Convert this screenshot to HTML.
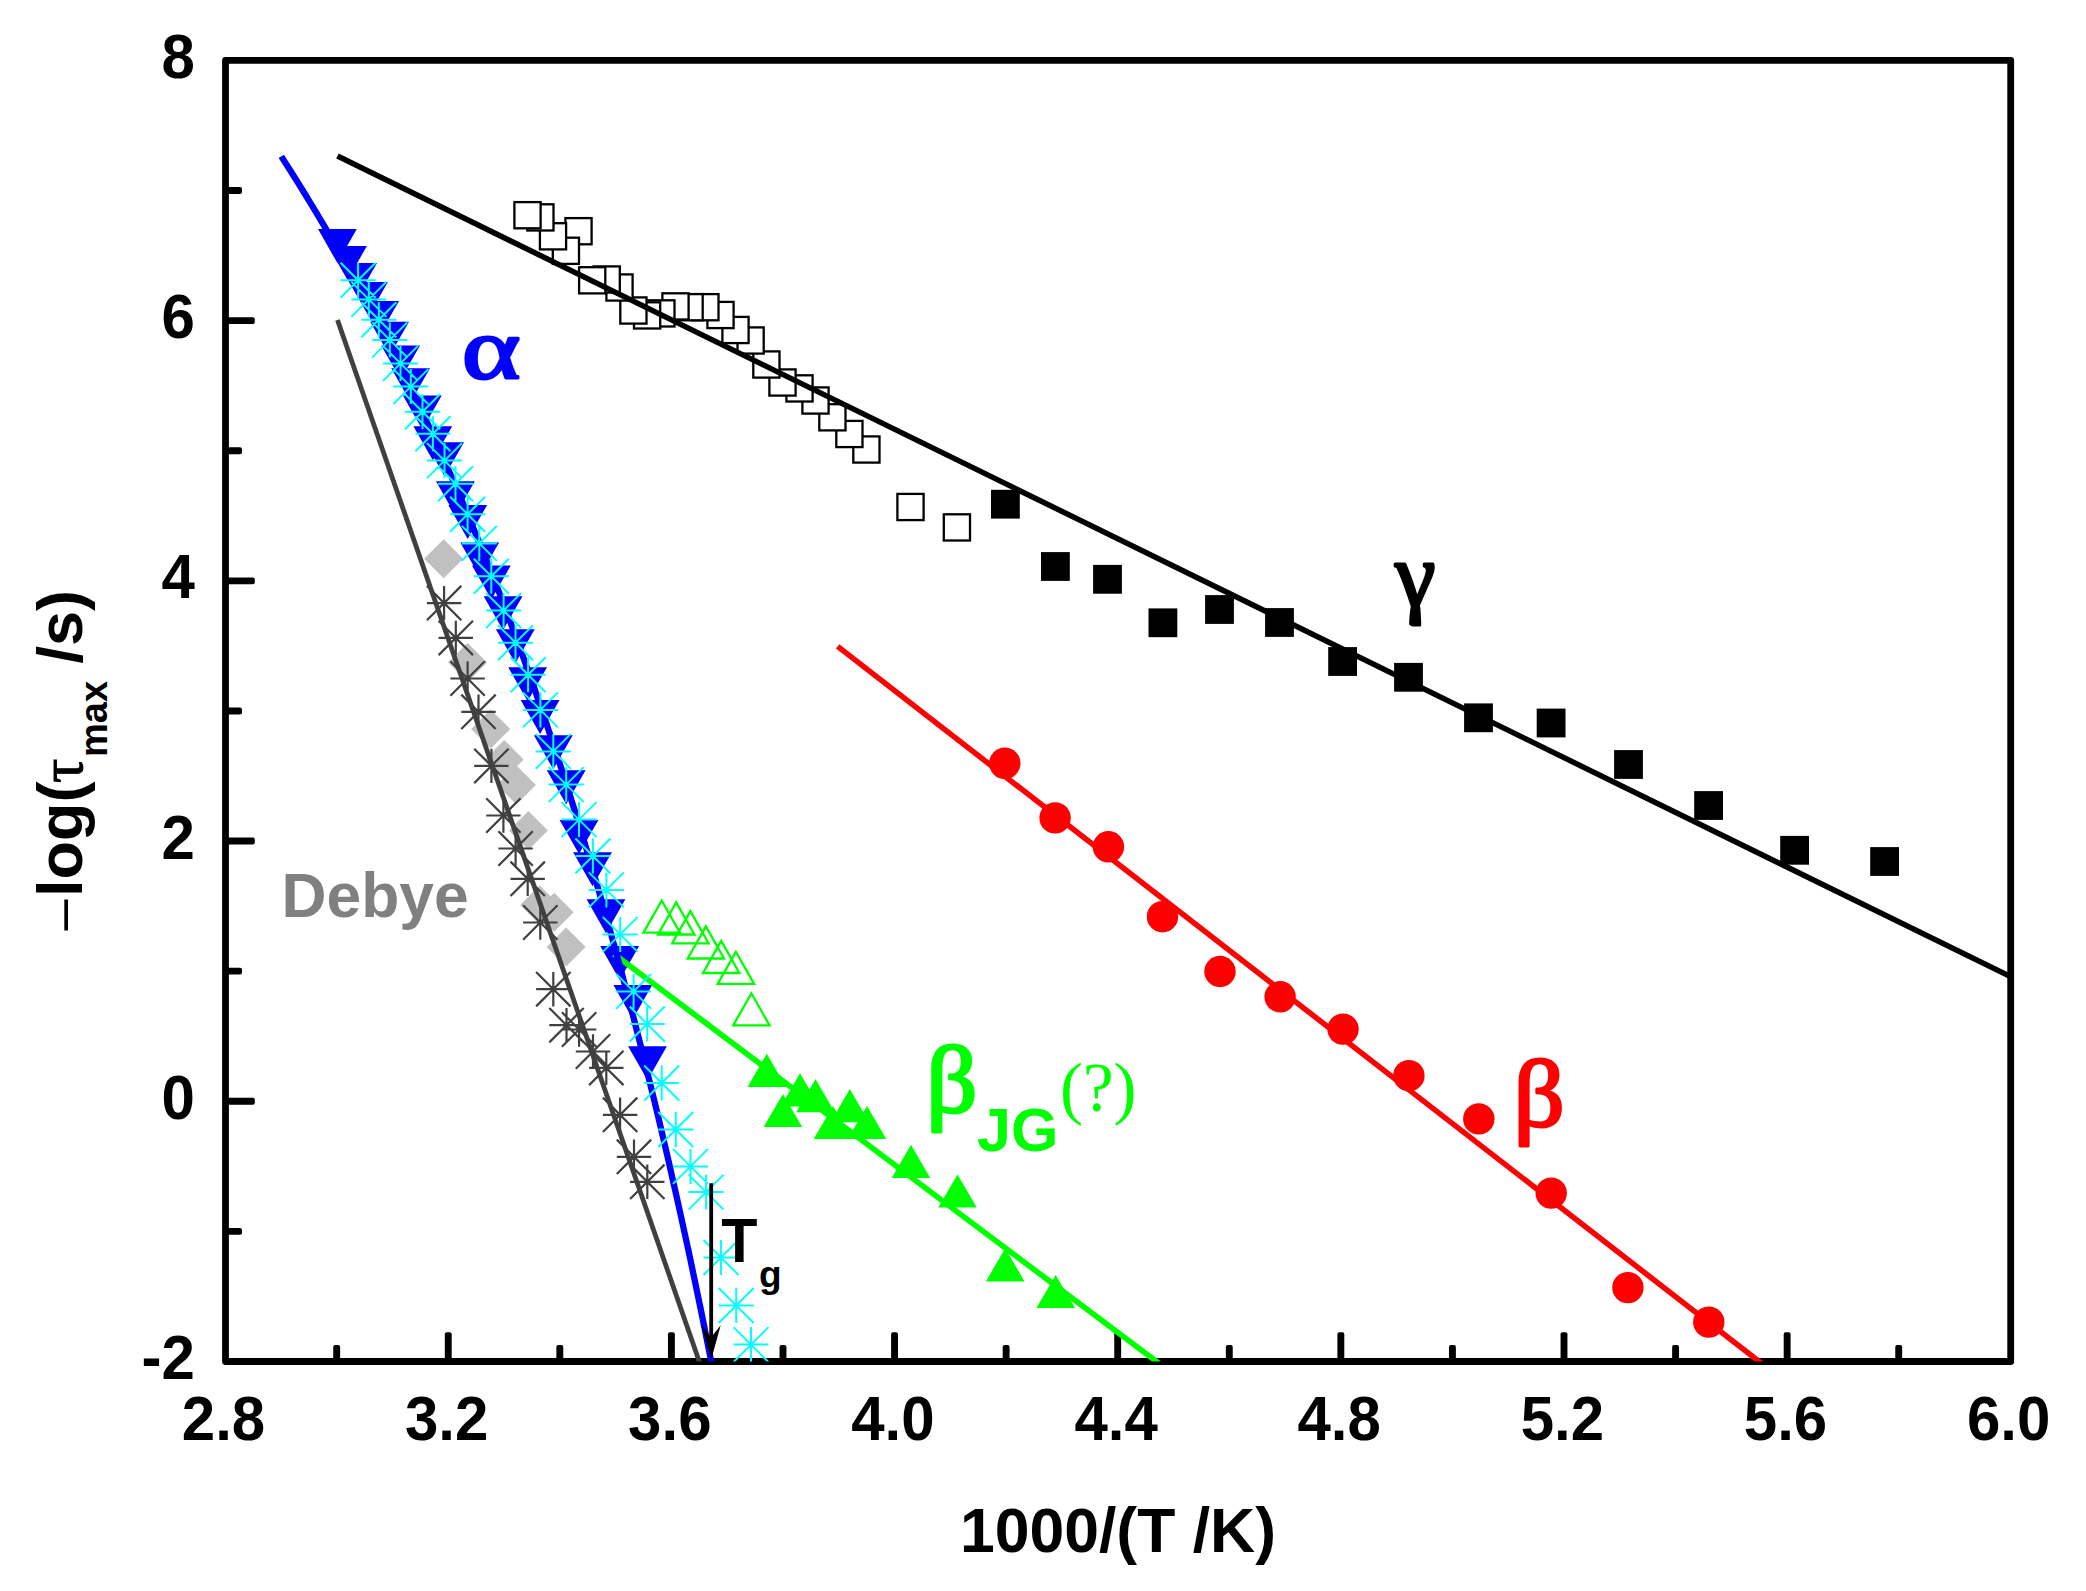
<!DOCTYPE html>
<html lang="en"><head><meta charset="utf-8"><title>Relaxation map</title>
<style>html,body{margin:0;padding:0;background:#fff}svg{display:block}</style></head>
<body>
<svg width="2086" height="1591" viewBox="0 0 2086 1591">
<rect width="2086" height="1591" fill="#fff"/>
<rect x="225.5" y="60.4" width="1785.2" height="1301.1" fill="none" stroke="#000" stroke-width="6.8" stroke-linejoin="round"/>
<g fill="#000"><rect x="333.23" y="1345.0" width="6.9" height="16.5" rx="2"/><rect x="444.80" y="1332.2" width="6.9" height="29.3" rx="2"/><rect x="556.38" y="1345.0" width="6.9" height="16.5" rx="2"/><rect x="667.95" y="1332.2" width="6.9" height="29.3" rx="2"/><rect x="779.53" y="1345.0" width="6.9" height="16.5" rx="2"/><rect x="891.10" y="1332.2" width="6.9" height="29.3" rx="2"/><rect x="1002.68" y="1345.0" width="6.9" height="16.5" rx="2"/><rect x="1114.25" y="1332.2" width="6.9" height="29.3" rx="2"/><rect x="1225.83" y="1345.0" width="6.9" height="16.5" rx="2"/><rect x="1337.40" y="1332.2" width="6.9" height="29.3" rx="2"/><rect x="1448.98" y="1345.0" width="6.9" height="16.5" rx="2"/><rect x="1560.55" y="1332.2" width="6.9" height="29.3" rx="2"/><rect x="1672.13" y="1345.0" width="6.9" height="16.5" rx="2"/><rect x="1783.70" y="1332.2" width="6.9" height="29.3" rx="2"/><rect x="1895.28" y="1345.0" width="6.9" height="16.5" rx="2"/><rect x="225.5" y="1227.94" width="16.5" height="6.9" rx="2"/><rect x="225.5" y="1097.83" width="29.3" height="6.9" rx="2"/><rect x="225.5" y="967.72" width="16.5" height="6.9" rx="2"/><rect x="225.5" y="837.61" width="29.3" height="6.9" rx="2"/><rect x="225.5" y="707.50" width="16.5" height="6.9" rx="2"/><rect x="225.5" y="577.39" width="29.3" height="6.9" rx="2"/><rect x="225.5" y="447.28" width="16.5" height="6.9" rx="2"/><rect x="225.5" y="317.17" width="29.3" height="6.9" rx="2"/><rect x="225.5" y="187.06" width="16.5" height="6.9" rx="2"/></g>
<clipPath id="pc"><rect x="225.5" y="60.4" width="1785.2" height="1301.1"/></clipPath>
<g clip-path="url(#pc)">
<g fill="#c0c0c0"><path d="M424.2 558.8L443.7 539.3L463.2 558.8L443.7 578.3Z"/><path d="M448.1 662.6L467.6 643.1L487.1 662.6L467.6 682.1Z"/><path d="M471.2 729.0L490.7 709.5L510.2 729.0L490.7 748.5Z"/><path d="M484.7 759.5L504.2 740.0L523.7 759.5L504.2 779.0Z"/><path d="M496.9 785.0L516.4 765.5L535.9 785.0L516.4 804.5Z"/><path d="M508.9 830.5L528.4 811.0L547.9 830.5L528.4 850.0Z"/><path d="M520.2 905.0L539.7 885.5L559.2 905.0L539.7 924.5Z"/><path d="M534.7 912.2L554.2 892.7L573.7 912.2L554.2 931.7Z"/><path d="M546.6 947.1L566.1 927.6L585.6 947.1L566.1 966.6Z"/></g>
<path fill="#0000ff" d="M318.0 229.1H356.8L337.4 263.1ZM328.1 246.0H366.9L347.5 280.0ZM338.2 263.0H377.0L357.6 297.0ZM349.1 282.1H387.9L368.5 316.1ZM360.2 301.1H399.0L379.6 335.1ZM370.2 321.8H409.0L389.6 355.8ZM381.2 345.5H420.0L400.6 379.5ZM391.2 368.2H430.0L410.6 402.2ZM402.9 395.4H441.7L422.3 429.4ZM413.4 426.2H452.2L432.8 460.2ZM425.2 442.2H464.0L444.6 476.2ZM436.0 481.3H474.8L455.4 515.3ZM448.3 505.1H487.1L467.7 539.1ZM460.3 542.4H499.1L479.7 576.4ZM472.0 565.4H510.8L491.4 599.4ZM483.7 596.2H522.5L503.1 630.2ZM495.9 629.2H534.7L515.3 663.2ZM508.2 667.2H547.0L527.6 701.2ZM520.7 700.1H559.5L540.1 734.1ZM533.9 735.3H572.7L553.3 769.3ZM546.8 770.3H585.6L566.2 804.3ZM559.6 819.9H598.4L579.0 853.9ZM573.1 852.2H611.9L592.5 886.2ZM586.6 899.2H625.4L606.0 933.2ZM600.3 946.1H639.1L619.7 980.1ZM613.4 985.1H652.2L632.8 1019.1ZM628.1 1046.3H666.9L647.5 1080.3Z"/>
<g fill="#fff" stroke="#000" stroke-width="2.3"><rect x="943.8" y="514.3" width="26.2" height="26.2"/><rect x="897.4" y="493.9" width="26.2" height="26.2"/><rect x="853.3" y="436.4" width="26.2" height="26.2"/><rect x="836.3" y="420.9" width="26.2" height="26.2"/><rect x="819.3" y="404.2" width="26.2" height="26.2"/><rect x="802.4" y="387.4" width="26.2" height="26.2"/><rect x="786.4" y="375.3" width="26.2" height="26.2"/><rect x="769.4" y="369.4" width="26.2" height="26.2"/><rect x="753.3" y="351.4" width="26.2" height="26.2"/><rect x="737.5" y="327.4" width="26.2" height="26.2"/><rect x="722.4" y="316.9" width="26.2" height="26.2"/><rect x="707.4" y="301.9" width="26.2" height="26.2"/><rect x="692.3" y="294.1" width="26.2" height="26.2"/><rect x="676.5" y="294.1" width="26.2" height="26.2"/><rect x="662.4" y="293.3" width="26.2" height="26.2"/><rect x="648.3" y="300.3" width="26.2" height="26.2"/><rect x="634.0" y="302.3" width="26.2" height="26.2"/><rect x="620.3" y="297.4" width="26.2" height="26.2"/><rect x="606.4" y="274.4" width="26.2" height="26.2"/><rect x="593.6" y="266.4" width="26.2" height="26.2"/><rect x="579.1" y="267.2" width="26.2" height="26.2"/><rect x="565.4" y="218.1" width="26.2" height="26.2"/><rect x="552.8" y="237.7" width="26.2" height="26.2"/><rect x="539.9" y="223.2" width="26.2" height="26.2"/><rect x="527.3" y="204.3" width="26.2" height="26.2"/><rect x="514.4" y="202.1" width="26.2" height="26.2"/></g>
<g fill="#000"><rect x="991.0" y="489.8" width="28.8" height="28.8"/><rect x="1041.0" y="552.1" width="28.8" height="28.8"/><rect x="1093.1" y="564.9" width="28.8" height="28.8"/><rect x="1148.5" y="608.4" width="28.8" height="28.8"/><rect x="1205.1" y="595.1" width="28.8" height="28.8"/><rect x="1265.1" y="608.1" width="28.8" height="28.8"/><rect x="1328.2" y="647.1" width="28.8" height="28.8"/><rect x="1394.1" y="662.9" width="28.8" height="28.8"/><rect x="1464.1" y="703.4" width="28.8" height="28.8"/><rect x="1536.7" y="708.6" width="28.8" height="28.8"/><rect x="1614.1" y="750.1" width="28.8" height="28.8"/><rect x="1694.2" y="791.1" width="28.8" height="28.8"/><rect x="1780.2" y="835.9" width="28.8" height="28.8"/><rect x="1870.2" y="847.1" width="28.8" height="28.8"/></g>
<g fill="#ff0000"><circle cx="1004.8" cy="763.3" r="15.7"/><circle cx="1055.1" cy="817.9" r="15.7"/><circle cx="1108.4" cy="846.8" r="15.7"/><circle cx="1162.5" cy="916.7" r="15.7"/><circle cx="1220.0" cy="971.5" r="15.7"/><circle cx="1280.1" cy="996.8" r="15.7"/><circle cx="1343.0" cy="1029.1" r="15.7"/><circle cx="1408.9" cy="1075.7" r="15.7"/><circle cx="1478.8" cy="1118.9" r="15.7"/><circle cx="1551.2" cy="1193.1" r="15.7"/><circle cx="1627.9" cy="1287.6" r="15.7"/><circle cx="1708.8" cy="1322.1" r="15.7"/></g>
<path fill="none" stroke="#00ff00" stroke-width="2.3" stroke-linejoin="miter" d="M643.5 932.6H679.9L661.7 900.5ZM658.0 934.5H694.4L676.2 902.4ZM672.2 943.3H708.6L690.4 911.2ZM687.7 958.5H724.1L705.9 926.4ZM703.0 973.0H739.4L721.2 940.9ZM717.7 983.9H754.1L735.9 951.8ZM733.2 1025.4H769.6L751.4 993.3Z"/>
<path fill="#00ff00" d="M747.5 1087.0H786.1L766.8 1053.8ZM763.6 1127.1H802.2L782.9 1093.9ZM780.7 1106.5H819.3L800.0 1073.3ZM796.2 1112.2H834.8L815.5 1079.0ZM813.7 1139.1H852.3L833.0 1105.9ZM830.5 1122.2H869.1L849.8 1089.0ZM847.7 1139.1H886.3L867.0 1105.9ZM891.7 1178.0H930.3L911.0 1144.8ZM938.2 1207.6H976.8L957.5 1174.4ZM985.9 1281.4H1024.5L1005.2 1248.2ZM1036.4 1308.1H1075.0L1055.7 1274.9Z"/>
<g fill="none" stroke-linecap="butt">
<line x1="337.5" y1="320" x2="699.6" y2="1362.5" stroke="#404040" stroke-width="4.8"/>
<line x1="613.9" y1="954" x2="1158.5" y2="1363" stroke="#00ff00" stroke-width="5.7"/>
<polyline points="281.3,156.4 286.7,164.9 292.2,173.5 297.6,182.2 303.1,191.0 308.5,199.9 314.0,208.8 319.4,217.9 324.9,227.2 330.4,236.5 335.8,245.9 341.3,255.4 346.7,265.1 352.2,274.9 357.6,284.8 363.1,294.8 368.5,305.0 374.0,315.2 379.4,325.6 384.9,336.2 390.3,346.9 395.8,357.7 401.2,368.6 406.7,379.7 412.1,391.0 417.6,402.3 423.0,413.9 428.5,425.6 433.9,437.4 439.4,449.4 444.8,461.6 450.3,474.0 455.7,486.5 461.2,499.2 466.6,512.0 472.1,525.1 477.5,538.3 483.0,551.8 488.4,565.4 493.9,579.2 499.4,593.2 504.8,607.5 510.3,621.9 515.7,636.6 521.2,651.5 526.6,666.6 532.1,681.9 537.5,697.5 543.0,713.3 548.4,729.4 553.9,745.7 559.3,762.3 564.8,779.2 570.2,796.3 575.7,813.7 581.1,831.4 586.6,849.4 592.0,867.7 597.5,886.3 602.9,905.2 608.4,924.4 613.8,944.0 619.3,963.9 624.7,984.2 630.2,1004.8 635.6,1025.8 641.1,1047.2 646.5,1069.0 652.0,1091.2 657.5,1113.8 662.9,1136.8 668.4,1160.3 673.8,1184.2 679.3,1208.6 684.7,1233.4 690.2,1258.7 695.6,1284.6 701.1,1311.0 706.5,1337.9 712.0,1365.3" stroke="#0000ff" stroke-width="6.3" stroke-linejoin="round"/>
<line x1="337.5" y1="156" x2="2012" y2="977.4" stroke="#000" stroke-width="5.5"/>
<line x1="837.6" y1="646.4" x2="1761" y2="1363" stroke="#ff0000" stroke-width="5.5"/>
</g>
<path fill="none" stroke="#404040" stroke-width="2.2" d="M426.9 603.1H461.3M444.1 585.9V620.3M426.9 585.9L461.3 620.3M426.9 620.3L461.3 585.9M438.6 637.9H473.0M455.8 620.7V655.1M438.6 620.7L473.0 655.1M438.6 655.1L473.0 620.7M450.4 678.5H484.8M467.6 661.3V695.7M450.4 661.3L484.8 695.7M450.4 695.7L484.8 661.3M461.3 711.8H495.7M478.5 694.6V729.0M461.3 694.6L495.7 729.0M461.3 729.0L495.7 694.6M474.2 765.9H508.6M491.4 748.7V783.1M474.2 748.7L508.6 783.1M474.2 783.1L508.6 748.7M486.2 815.5H520.6M503.4 798.3V832.7M486.2 798.3L520.6 832.7M486.2 832.7L520.6 798.3M498.4 848.5H532.8M515.6 831.3V865.7M498.4 831.3L532.8 865.7M498.4 865.7L532.8 831.3M510.5 878.8H544.9M527.7 861.6V896.0M510.5 861.6L544.9 896.0M510.5 896.0L544.9 861.6M523.1 922.5H557.5M540.3 905.3V939.7M523.1 905.3L557.5 939.7M523.1 939.7L557.5 905.3M536.1 989.2H570.5M553.3 972.0V1006.4M536.1 972.0L570.5 1006.4M536.1 1006.4L570.5 972.0M549.3 1025.2H583.7M566.5 1008.0V1042.4M549.3 1008.0L583.7 1042.4M549.3 1042.4L583.7 1008.0M561.9 1029.5H596.3M579.1 1012.3V1046.7M561.9 1012.3L596.3 1046.7M561.9 1046.7L596.3 1012.3M575.8 1051.5H610.2M593.0 1034.3V1068.7M575.8 1034.3L610.2 1068.7M575.8 1068.7L610.2 1034.3M589.1 1067.9H623.5M606.3 1050.7V1085.1M589.1 1050.7L623.5 1085.1M589.1 1085.1L623.5 1050.7M602.9 1114.8H637.3M620.1 1097.6V1132.0M602.9 1097.6L637.3 1132.0M602.9 1132.0L637.3 1097.6M616.8 1156.8H651.2M634.0 1139.6V1174.0M616.8 1139.6L651.2 1174.0M616.8 1174.0L651.2 1139.6M630.1 1181.8H664.5M647.3 1164.6V1199.0M630.1 1164.6L664.5 1199.0M630.1 1199.0L664.5 1164.6"/>
<path fill="none" stroke="#00ffff" stroke-width="2" d="M340.6 280.2H375.6M358.1 262.7V297.7M340.6 262.7L375.6 297.7M340.6 297.7L375.6 262.7M351.3 299.4H386.3M368.8 281.9V316.9M351.3 281.9L386.3 316.9M351.3 316.9L386.3 281.9M361.3 319.8H396.3M378.8 302.3V337.3M361.3 302.3L396.3 337.3M361.3 337.3L396.3 302.3M372.3 339.9H407.3M389.8 322.4V357.4M372.3 322.4L407.3 357.4M372.3 357.4L407.3 322.4M383.0 363.4H418.0M400.5 345.9V380.9M383.0 345.9L418.0 380.9M383.0 380.9L418.0 345.9M393.3 386.6H428.3M410.8 369.1V404.1M393.3 369.1L428.3 404.1M393.3 404.1L428.3 369.1M405.0 411.8H440.0M422.5 394.3V429.3M405.0 394.3L440.0 429.3M405.0 429.3L440.0 394.3M415.4 433.8H450.4M432.9 416.3V451.3M415.4 416.3L450.4 451.3M415.4 451.3L450.4 416.3M427.0 460.6H462.0M444.5 443.1V478.1M427.0 443.1L462.0 478.1M427.0 478.1L462.0 443.1M438.0 483.8H473.0M455.5 466.3V501.3M438.0 466.3L473.0 501.3M438.0 501.3L473.0 466.3M450.1 514.2H485.1M467.6 496.7V531.7M450.1 496.7L485.1 531.7M450.1 531.7L485.1 496.7M461.8 543.4H496.8M479.3 525.9V560.9M461.8 525.9L496.8 560.9M461.8 560.9L496.8 525.9M473.8 576.3H508.8M491.3 558.8V593.8M473.8 558.8L508.8 593.8M473.8 593.8L508.8 558.8M486.1 610.6H521.1M503.6 593.1V628.1M486.1 593.1L521.1 628.1M486.1 628.1L521.1 593.1M498.0 642.7H533.0M515.5 625.2V660.2M498.0 625.2L533.0 660.2M498.0 660.2L533.0 625.2M510.6 674.8H545.6M528.1 657.3V692.3M510.6 657.3L545.6 692.3M510.6 692.3L545.6 657.3M522.9 709.9H557.9M540.4 692.4V727.4M522.9 692.4L557.9 727.4M522.9 727.4L557.9 692.4M535.8 751.4H570.8M553.3 733.9V768.9M535.8 733.9L570.8 768.9M535.8 768.9L570.8 733.9M548.7 784.6H583.7M566.2 767.1V802.1M548.7 767.1L583.7 802.1M548.7 802.1L583.7 767.1M561.5 819.6H596.5M579.0 802.1V837.1M561.5 802.1L596.5 837.1M561.5 837.1L596.5 802.1M575.4 856.0H610.4M592.9 838.5V873.5M575.4 838.5L610.4 873.5M575.4 873.5L610.4 838.5M588.9 889.9H623.9M606.4 872.4V907.4M588.9 872.4L623.9 907.4M588.9 907.4L623.9 872.4M602.7 934.4H637.7M620.2 916.9V951.9M602.7 916.9L637.7 951.9M602.7 951.9L637.7 916.9M616.1 991.4H651.1M633.6 973.9V1008.9M616.1 973.9L651.1 1008.9M616.1 1008.9L651.1 973.9M629.7 1024.0H664.7M647.2 1006.5V1041.5M629.7 1006.5L664.7 1041.5M629.7 1041.5L664.7 1006.5M644.2 1083.0H679.2M661.7 1065.5V1100.5M644.2 1065.5L679.2 1100.5M644.2 1100.5L679.2 1065.5M658.3 1129.5H693.3M675.8 1112.0V1147.0M658.3 1112.0L693.3 1147.0M658.3 1147.0L693.3 1112.0M673.0 1166.4H708.0M690.5 1148.9V1183.9M673.0 1148.9L708.0 1183.9M673.0 1183.9L708.0 1148.9M688.6 1192.1H723.6M706.1 1174.6V1209.6M688.6 1174.6L723.6 1209.6M688.6 1209.6L723.6 1174.6M703.5 1257.5H738.5M721.0 1240.0V1275.0M703.5 1240.0L738.5 1275.0M703.5 1275.0L738.5 1240.0M718.7 1305.5H753.7M736.2 1288.0V1323.0M718.7 1288.0L753.7 1323.0M718.7 1323.0L753.7 1288.0M733.5 1344.6H768.5M751.0 1327.1V1362.1M733.5 1327.1L768.5 1362.1M733.5 1362.1L768.5 1327.1"/>
<line x1="711.2" y1="1183.2" x2="711.2" y2="1340" stroke="#000" stroke-width="3.8"/>
<path fill="#000" d="M711.2 1359.5L701.7 1325.3L711.2 1337.2L720.7 1325.3Z"/>
</g>
<g font-family="Liberation Sans, Arial, Helvetica, sans-serif" font-weight="bold" font-size="62" fill="#000"><text transform="translate(223.5,1439.8) scale(0.968,1)" text-anchor="middle">2.8</text><text transform="translate(446.6,1439.8) scale(0.968,1)" text-anchor="middle">3.2</text><text transform="translate(669.8,1439.8) scale(0.968,1)" text-anchor="middle">3.6</text><text transform="translate(892.9,1439.8) scale(0.968,1)" text-anchor="middle">4.0</text><text transform="translate(1116.1,1439.8) scale(0.968,1)" text-anchor="middle">4.4</text><text transform="translate(1339.2,1439.8) scale(0.968,1)" text-anchor="middle">4.8</text><text transform="translate(1562.4,1439.8) scale(0.968,1)" text-anchor="middle">5.2</text><text transform="translate(1785.5,1439.8) scale(0.968,1)" text-anchor="middle">5.6</text><text transform="translate(2008.7,1439.8) scale(0.968,1)" text-anchor="middle">6.0</text><text transform="translate(194.8,1379.0) scale(0.968,1)" text-anchor="end">-2</text><text transform="translate(194.8,1118.8) scale(0.968,1)" text-anchor="end">0</text><text transform="translate(194.8,858.6) scale(0.968,1)" text-anchor="end">2</text><text transform="translate(194.8,598.3) scale(0.968,1)" text-anchor="end">4</text><text transform="translate(194.8,338.1) scale(0.968,1)" text-anchor="end">6</text><text transform="translate(194.8,77.9) scale(0.968,1)" text-anchor="end">8</text></g>
<text x="1118" y="1552" text-anchor="middle" font-family="Liberation Sans, Arial, Helvetica, sans-serif" font-weight="bold" font-size="62.5" fill="#000">1000/(T /K)</text>
<g transform="translate(81.8,932) rotate(-90)" fill="#000"><text x="1.4" y="-1.8" font-family="Liberation Sans, Arial, sans-serif" font-weight="normal" font-size="55.8">–</text><text x="35" y="0" font-family="Liberation Sans, Arial, Helvetica, sans-serif" font-weight="bold" font-size="63">log(</text><text x="149" y="0" font-family="Liberation Serif, Times New Roman, serif" font-size="60.5" stroke="#000" stroke-width="0.9">τ</text><text x="175" y="24.7" font-family="Liberation Sans, Arial, Helvetica, sans-serif" font-weight="bold" font-size="38">max</text><text x="268.5" y="0" font-family="Liberation Sans, Arial, Helvetica, sans-serif" font-weight="bold" font-size="63">/s)</text></g>
<text x="281.6" y="917" font-family="Liberation Sans, Arial, Helvetica, sans-serif" font-weight="bold" font-size="62.3" fill="#808080">Debye</text>
<text transform="translate(721.2,1262) scale(0.93,1)" font-family="Liberation Sans, Arial, Helvetica, sans-serif" font-weight="bold" font-size="63.8" fill="#000">T</text>
<text x="759" y="1287" font-family="Liberation Sans, Arial, Helvetica, sans-serif" font-weight="bold" font-size="37" fill="#000">g</text>
<text transform="translate(462.0,377.6) scale(1.28,1)" font-family="Liberation Serif, Times New Roman, serif" font-size="87" fill="#0000ff" stroke="#0000ff" stroke-width="2.8" stroke-linejoin="round">α</text>
<text x="1395.3" y="606.2" font-family="Liberation Serif, Times New Roman, serif" font-size="90.8" fill="#000" stroke="#000" stroke-width="3" stroke-linejoin="round">γ</text>
<text transform="translate(1513.5,1126) scale(1.06,1)" font-family="Liberation Serif, Times New Roman, serif" font-size="95" fill="#ff0000" stroke="#ff0000" stroke-width="2.8" stroke-linejoin="round">β</text>
<text transform="translate(926.3,1112) scale(1.06,1)" font-family="Liberation Serif, Times New Roman, serif" font-size="95" fill="#00ff00" stroke="#00ff00" stroke-width="2.8" stroke-linejoin="round">β</text>
<text x="977" y="1151" font-family="Liberation Sans, Arial, Helvetica, sans-serif" font-weight="bold" font-size="61" fill="#00ff00">JG</text>
<text x="1060" y="1110.5" font-family="Liberation Serif, Times New Roman, serif" font-size="69" fill="#00ff00">(?)</text>
</svg>
</body></html>
